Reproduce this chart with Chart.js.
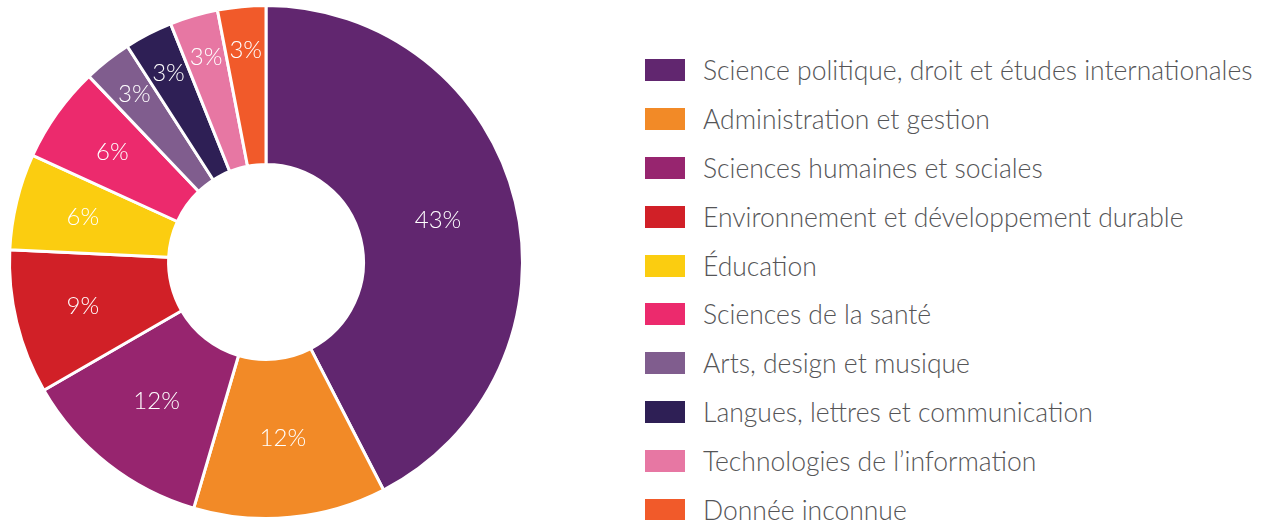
<!DOCTYPE html>
<html>
<head>
<meta charset="utf-8">
<script src="https://cdn.jsdelivr.net/npm/chart.js@4"></script>
<style>
  html, body { margin: 0; padding: 0; background: #fff; }
  body { width: 1271px; height: 520px; position: relative; overflow: hidden; font-family: Lato, "Open Sans", sans-serif; }
  #chartBox { position: absolute; left: 0; top: 0; width: 532px; height: 520px; }
  #legend { position: absolute; left: 645px; top: 46px; }
  .row { height: 48.8px; display: flex; align-items: center; }
  .box { width: 40px; height: 22px; margin-right: 18px; flex: none; }
  .txt { font-size: 26.5px; font-weight: 300; color: #555557; white-space: nowrap; }
</style>
</head>
<body>
<div id="chartBox"><canvas id="chart"></canvas></div>
<div id="legend"></div>
<script>
var categories = [
  'Science politique, droit et études internationales',
  'Administration et gestion',
  'Sciences humaines et sociales',
  'Environnement et développement durable',
  'Éducation',
  'Sciences de la santé',
  'Arts, design et musique',
  'Langues, lettres et communication',
  'Technologies de l\u2019information',
  'Donnée inconnue'
];
var values = [14, 4, 4, 3, 2, 2, 1, 1, 1, 1];
var percentLabels = ['43%', '12%', '12%', '9%', '6%', '6%', '3%', '3%', '3%', '3%'];
var colors = ['#61266f', '#f28a27', '#97256f', '#d12027', '#fbcd10', '#ec2a6d', '#805d8e', '#2e1f55', '#e777a3', '#f15a2a'];

// white percentage text inside each slice, narrow slices pushed outward
var sliceLabels = {
  id: 'sliceLabels',
  afterDatasetsDraw: function(chart) {
    var ctx = chart.ctx;
    var meta = chart.getDatasetMeta(0);
    var total = values.reduce(function(a, b) { return a + b; }, 0);
    ctx.save();
    ctx.fillStyle = '#ffffff';
    ctx.font = '300 24px Lato, "Open Sans", sans-serif';
    ctx.textAlign = 'center';
    ctx.textBaseline = 'middle';
    meta.data.forEach(function(arc, i) {
      var share = values[i] / total;
      var f = share < 0.05 ? 0.83 : (share < 0.1 ? 0.735 : 0.69);
      var mid = (arc.startAngle + arc.endAngle) / 2;
      var r = arc.outerRadius * f;
      ctx.fillText(percentLabels[i], arc.x + Math.cos(mid) * r, arc.y + Math.sin(mid) * r);
    });
    ctx.restore();
  }
};

var ctx = document.getElementById('chart').getContext('2d');
var chart = new Chart(ctx, {
  type: 'doughnut',
  data: {
    labels: categories,
    datasets: [{
      data: values,
      backgroundColor: colors,
      borderColor: '#ffffff',
      borderWidth: 3,
      hoverOffset: 0
    }]
  },
  options: {
    responsive: true,
    maintainAspectRatio: false,
    animation: false,
    cutout: '38%',
    layout: { padding: { top: 4, bottom: 0 } },
    plugins: {
      legend: { display: false },
      tooltip: { enabled: false }
    }
  },
  plugins: [sliceLabels]
});

var legend = document.getElementById('legend');
for (var i = 0; i < categories.length; i++) {
  var row = document.createElement('div');
  row.className = 'row';
  var box = document.createElement('div');
  box.className = 'box';
  box.style.background = colors[i];
  var txt = document.createElement('span');
  txt.className = 'txt';
  txt.textContent = categories[i];
  row.appendChild(box);
  row.appendChild(txt);
  legend.appendChild(row);
}
</script>
</body>
</html>
